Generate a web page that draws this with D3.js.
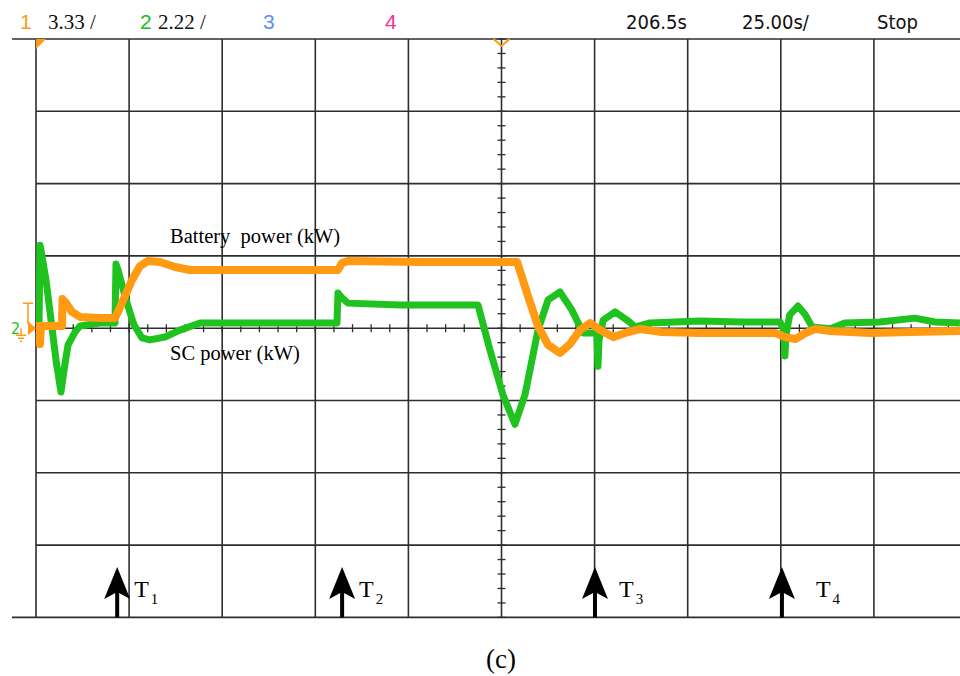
<!DOCTYPE html>
<html>
<head>
<meta charset="utf-8">
<script src="https://cdn.jsdelivr.net/npm/d3@7"></script>
<style>
  html, body { margin: 0; padding: 0; background: #fff; }
  svg { display: block; }
</style>
</head>
<body>
<svg id="scope" width="960" height="676"></svg>
<script>
// ---- Status bar texts ----
const channelNames  = ["1", "2", "3", "4"];
const channelScales = ["3.33 /", "2.22 /", "", ""];
const statusTexts   = ["206.5s", "25.00s/", "Stop"];

// ---- Scope settings ----
const secPerDiv = 25;        // time base
const battKwPerDiv = 3.33;   // channel 1
const scKwPerDiv = 2.22;     // channel 2
const hDivs = 10;
const vDivs = 8;

// ---- Battery power (channel 1): time in s, power in kW ----
const batteryTime = [0, 0.81, 1.07, 1.34, 5.91, 6.98, 7.12, 8.06, 9.67, 11.81,
  17.18, 21.21, 22.02, 23.90, 25.78, 27.93, 30.08, 33.30, 37.33, 41.36,
  57.46, 70.89, 81.09, 82.17, 83.78, 103.1, 129.2, 132.1, 134.8, 137.5,
  140.7, 143.4, 146.1, 148.8, 151.5, 155.0, 158.2, 162.2, 167.6, 178.3,
  189.1, 198.5, 201.2, 203.9, 206.6, 209.3, 213.3, 224.0, 234.7, 248.1];
const batteryKw = [0.10, 0.10, -0.73, 0.10, 0.10, 0.10, 1.34, 1.16, 0.75, 0.52,
  0.47, 0.47, 0.75, 1.48, 2.22, 2.86, 3.10, 3.05, 2.82, 2.68,
  2.68, 2.68, 2.68, 3.00, 3.10, 3.05, 3.05, 1.48, 0.10, -0.77,
  -1.14, -0.73, -0.08, 0.24, -0.08, -0.41, -0.22, -0.04, -0.17, -0.22,
  -0.22, -0.22, -0.41, -0.50, -0.22, -0.04, -0.13, -0.22, -0.17, -0.13];

// ---- Supercapacitor power (channel 2): time in s, power in kW ----
const scTime = [0, 0.81, 1.07, 1.34, 2.69, 4.30, 5.37, 6.71, 7.52, 8.59,
  10.47, 11.81, 17.18, 21.21, 21.48, 22.02, 24.17, 26.31, 28.46, 30.61,
  34.64, 38.66, 44.04, 60.14, 80.82, 81.09, 82.17, 83.78, 97.73, 118.7,
  121.9, 125.4, 128.6, 131.3, 134.8, 137.5, 140.7, 143.9, 146.9, 150.1,
  150.6, 150.9, 151.2, 152.3, 155.5, 158.7, 160.9, 164.9, 178.3, 189.1,
  199.8, 200.8, 201.1, 201.4, 202.4, 204.6, 206.6, 208.4, 213.3, 217.2,
  226.6, 236.0, 241.4, 248.1];
const scKw = [0.04, 0.04, 2.55, 2.40, 1.48, 0.01, -0.98, -1.96, -1.29, -0.52,
  -0.12, 0.07, 0.16, 0.16, 1.97, 1.79, 0.87, 0.10, -0.30, -0.36,
  -0.27, -0.06, 0.16, 0.16, 0.16, 1.08, 0.93, 0.77, 0.71, 0.71,
  -0.67, -2.05, -2.95, -2.05, -0.06, 0.87, 1.11, 0.56, -0.15, -0.15,
  -0.21, -1.17, -0.36, 0.25, 0.50, 0.25, 0.04, 0.16, 0.22, 0.19,
  0.19, -0.06, -0.85, -0.21, 0.41, 0.68, 0.41, 0.04, -0.02, 0.16,
  0.19, 0.31, 0.19, 0.16];

// ---- Operating-mode instants T1..T4 (s) ----
const eventTimes = [21.8, 82.2, 150.1, 200.3];
const eventSubs  = ["1", "2", "3", "4"];
const eventLabelGap = [17, 17, 24, 34];   // label offset from arrow, px

// ---- Layout ----
const gridLeft = 36, gridTop = 39, divW = 93.1, divH = 72.3;
const gridRight = gridLeft + hDivs * divW, gridBottom = gridTop + vDivs * divH;
const orange = "#ff9a12", green = "#1fc21f", gridColor = "#2e2e2e";
const serif = "Liberation Serif, Times New Roman, serif";

const svg = d3.select("#scope");

const x = d3.scaleLinear().domain([0, hDivs * secPerDiv]).range([gridLeft, gridRight]);
const yB = d3.scaleLinear().domain([-vDivs / 2 * battKwPerDiv, vDivs / 2 * battKwPerDiv]).range([gridBottom, gridTop]);
const yS = d3.scaleLinear().domain([-vDivs / 2 * scKwPerDiv, vDivs / 2 * scKwPerDiv]).range([gridBottom, gridTop]);

// ---- Graticule ----
const grid = svg.append("g").attr("stroke", gridColor).attr("stroke-width", 1.6).attr("fill", "none");
const tDivs = d3.range(0, hDivs + 1).map(i => i * secPerDiv);
grid.selectAll("line.v").data(tDivs).join("line")
  .attr("x1", d => x(d)).attr("x2", d => x(d))
  .attr("y1", gridTop).attr("y2", gridBottom);
const kDivs = d3.range(-vDivs / 2, vDivs / 2 + 1).map(i => i * battKwPerDiv);
grid.selectAll("line.h").data(kDivs).join("line")
  .attr("x1", d => (Math.abs(d - yB.domain()[0]) < 1e-6 || Math.abs(d - yB.domain()[1]) < 1e-6) ? 12 : gridLeft)
  .attr("x2", 960)
  .attr("y1", d => yB(d)).attr("y2", d => yB(d));

// minor ticks on centre axes
const midT = hDivs / 2 * secPerDiv;
const minorT = d3.range(0, hDivs * secPerDiv + 0.01, secPerDiv / 5);
grid.selectAll("line.mt").data(minorT).join("line")
  .attr("stroke-width", 1.3)
  .attr("x1", d => x(d)).attr("x2", d => x(d))
  .attr("y1", yB(0) - 4).attr("y2", yB(0) + 4);
const minorK = d3.range(-vDivs / 2 * battKwPerDiv, vDivs / 2 * battKwPerDiv + 0.01, battKwPerDiv / 5);
grid.selectAll("line.mk").data(minorK).join("line")
  .attr("stroke-width", 1.3)
  .attr("x1", x(midT) - 4).attr("x2", x(midT) + 4)
  .attr("y1", d => yB(d)).attr("y2", d => yB(d));

// ---- Traces ----
svg.append("clipPath").attr("id", "plotClip")
  .append("rect").attr("x", gridLeft).attr("y", gridTop)
  .attr("width", 960 - gridLeft).attr("height", gridBottom - gridTop);

const scPts = scTime.map((t, i) => [t, scKw[i]]);
const battPts = batteryTime.map((t, i) => [t, batteryKw[i]]);

svg.append("path")
  .attr("clip-path", "url(#plotClip)")
  .attr("d", d3.line().x(d => x(d[0])).y(d => yS(d[1]))(scPts))
  .attr("fill", "none").attr("stroke", green).attr("stroke-width", 7)
  .attr("stroke-linejoin", "round").attr("stroke-linecap", "butt");

svg.append("path")
  .attr("clip-path", "url(#plotClip)")
  .attr("d", d3.line().x(d => x(d[0])).y(d => yB(d[1]))(battPts))
  .attr("fill", "none").attr("stroke", orange).attr("stroke-width", 8)
  .attr("stroke-linejoin", "round").attr("stroke-linecap", "butt");

// ---- Trace labels ----
svg.append("text").attr("x", 170).attr("y", 243)
  .attr("font-family", serif).attr("font-size", 20.5)
  .attr("xml:space", "preserve").style("white-space", "pre")
  .text("Battery  power (kW)");
svg.append("text").attr("x", 170).attr("y", 360)
  .attr("font-family", serif).attr("font-size", 20.5)
  .text("SC power (kW)");

// ---- Markers: trigger, ground reference ----
svg.append("path").attr("d", `M${gridLeft},${gridTop} h10 L${gridLeft},${gridTop + 10} Z`).attr("fill", orange);
const tx = x(midT);
svg.append("path")
  .attr("d", `M${tx - 8},${gridTop} L${tx},${gridTop + 7} L${tx + 8},${gridTop}`)
  .attr("fill", "none").attr("stroke", orange).attr("stroke-width", 2);

const gy = yB(0);
const gnd = svg.append("g").attr("stroke", orange).attr("stroke-width", 1.5).attr("fill", "none");
gnd.append("path").attr("d", `M23,${gy - 25} h10 M28,${gy - 25} V${gy - 5} H${gridLeft - 6}`);
gnd.append("path").attr("d", `M21,${gy} V${gy + 7} M16,${gy + 7} h10 M18,${gy + 10} h6 M20,${gy + 13} h2`);
svg.append("path").attr("d", `M${gridLeft - 8},${gy - 7} L${gridLeft},${gy} L${gridLeft - 8},${gy + 7} Z`).attr("fill", orange);
svg.append("text").attr("x", 11).attr("y", gy + 6)
  .attr("font-family", "DejaVu Sans Condensed, DejaVu Sans, sans-serif").attr("font-size", 16)
  .attr("fill", green).text("2");

// ---- Status bar ----
const chanColors = [orange, "#22bb22", "#5b8ff5", "#f0368f"];
const chanX = [20, 140, 263, 385];
const scaleX = [48, 158];
const bar = svg.append("g");
bar.selectAll("text.cn").data(channelNames).join("text")
  .attr("x", (d, i) => chanX[i]).attr("y", 29)
  .attr("font-family", "Liberation Sans, Arial, sans-serif").attr("font-size", 21)
  .attr("fill", (d, i) => chanColors[i]).text(d => d);
bar.selectAll("text.cs").data(channelScales.filter(s => s)).join("text")
  .attr("x", (d, i) => scaleX[i]).attr("y", 29)
  .attr("font-family", serif).attr("font-size", 21)
  .attr("fill", "#111").text(d => d);
const statusX = [626, 742, 877];
bar.selectAll("text.st").data(statusTexts).join("text")
  .attr("x", (d, i) => statusX[i]).attr("y", 29)
  .attr("font-family", "DejaVu Sans Condensed, DejaVu Sans, sans-serif").attr("font-size", 20)
  .attr("fill", "#111").text(d => d);

// ---- Event arrows T1..T4 ----
const ev = svg.append("g").selectAll("g").data(eventTimes).join("g")
  .attr("transform", d => `translate(${x(d)},0)`);
ev.append("rect").attr("x", -2).attr("y", 590).attr("width", 4).attr("height", gridBottom - 590).attr("fill", "#000");
ev.append("path").attr("d", "M0,567 L13,599 L0,592 L-13,599 Z").attr("fill", "#000");
const lbl = ev.append("text")
  .attr("x", (d, i) => eventLabelGap[i]).attr("y", 597)
  .attr("font-family", serif).attr("font-size", 24);
lbl.append("tspan").text("T");
lbl.append("tspan").attr("dy", 7).attr("dx", 2).attr("font-size", 15).text((d, i) => eventSubs[i]);

// ---- Caption ----
svg.append("text").attr("x", 501).attr("y", 668).attr("text-anchor", "middle")
  .attr("font-family", serif).attr("font-size", 27)
  .text("(c)");
</script>
</body>
</html>
